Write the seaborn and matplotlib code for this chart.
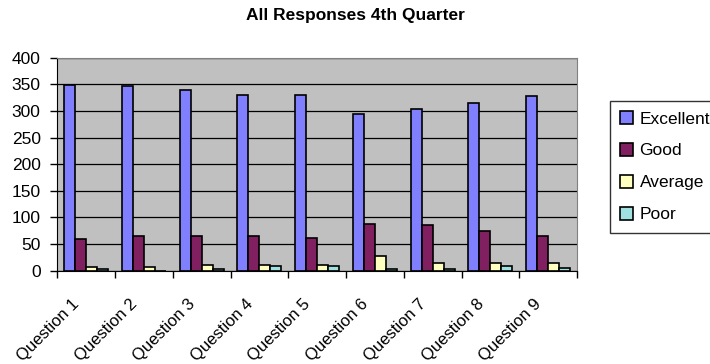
import pandas as pd
import numpy as np
import matplotlib
matplotlib.use("Agg")
import matplotlib.pyplot as plt
import matplotlib.transforms as mtransforms
import seaborn as sns

questions = ["Question 1", "Question 2", "Question 3", "Question 4", "Question 5",
             "Question 6", "Question 7", "Question 8", "Question 9"]
excellent = [349, 347, 340, 330, 330, 295, 304, 314, 328]
good = [59, 65, 65, 65, 62, 88, 85, 75, 65]
average = [7, 7, 10, 10, 10, 27, 14, 14, 14]
poor = [4, 0, 4, 8, 8, 4, 4, 8, 5]
ratings = ["Excellent", "Good", "Average", "Poor"]
colors = ["#8080FF", "#802060", "#FFFFC0", "#A0E0E0"]

df = pd.DataFrame({"question": questions, "Excellent": excellent, "Good": good,
                   "Average": average, "Poor": poor})
df = df.melt(id_vars="question", var_name="rating", value_name="count")

plt.rcParams["font.family"] = ["Liberation Sans", "DejaVu Sans"]

W, H = 710, 364
fig = plt.figure(figsize=(W / 100, H / 100), dpi=100)
ax = fig.add_axes([57.3 / W, 1 - 270.7 / H, (577 - 57.3) / W, (270.7 - 57.7) / H])
ax.set_facecolor("#C0C0C0")

sns.barplot(data=df, x="question", y="count", hue="rating", hue_order=ratings,
            palette=colors, width=0.76, gap=0, edgecolor="black", linewidth=1.2,
            saturation=1, ax=ax)

ax.set_ylim(0, 400)
ax.set_yticks(np.arange(0, 401, 50))
ax.set_xlim(-0.5, 8.5)
ax.set_axisbelow(True)
ax.yaxis.grid(True, color="black", linewidth=0.9)
ax.set_xlabel("")
ax.set_ylabel("")

ax.set_xticks(np.arange(-0.5, 9, 1), minor=True)
ax.tick_params(axis="x", which="major", length=0, pad=22, labelsize=12)
ax.tick_params(axis="x", which="minor", length=5, width=1, direction="out")
ax.tick_params(axis="y", length=5, width=1, direction="out", pad=7, labelsize=12.5)
shift = mtransforms.ScaledTranslation(-9 / 100, 0, fig.dpi_scale_trans)
for lab in ax.get_xticklabels():
    lab.set_rotation(45)
    lab.set_ha("right")
    lab.set_va("center")
    lab.set_rotation_mode("anchor")
    lab.set_transform(lab.get_transform() + shift)

for s in ["top", "right"]:
    ax.spines[s].set_color("#808080")
ax.spines["left"].set_color("black")
ax.spines["bottom"].set_color("black")

handles, labels = ax.get_legend_handles_labels()
ax.get_legend().remove()
leg = fig.legend(handles, labels, loc="upper left",
                 bbox_to_anchor=(610 / W, 1 - 100.7 / H), fontsize=12.5,
                 frameon=True, fancybox=False, edgecolor="black",
                 handlelength=0.75, handleheight=0.75, handletextpad=0.35,
                 labelspacing=0.95, borderpad=0.6, borderaxespad=0)
leg.get_frame().set_linewidth(1)

fig.text(0.5, 1 - 15.5 / H, "All Responses 4th Quarter", ha="center", va="center",
         fontsize=12.5, fontweight="bold")

fig.savefig("out.png", dpi=100)
